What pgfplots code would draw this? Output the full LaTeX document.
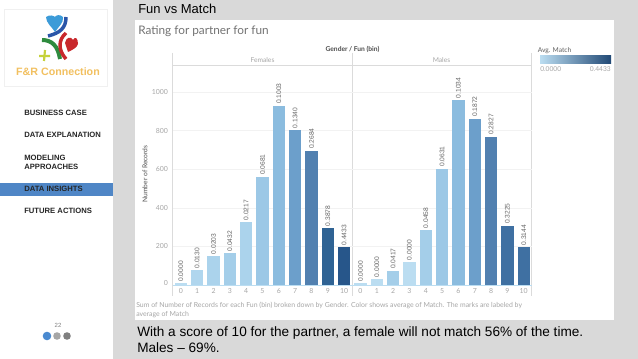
\documentclass[border=0pt]{standalone}
\usepackage{fontspec}
\setmainfont{Liberation Sans}
\newfontfamily\tab{Lato}
\usepackage{pgfplots}
\pgfplotsset{compat=1.18}
\definecolor{ca}{HTML}{BBDDF1}
\definecolor{cb}{HTML}{B0D6EE}
\definecolor{cc}{HTML}{ABD3EC}
\definecolor{cd}{HTML}{A4CEE9}
\definecolor{ce}{HTML}{9CC8E6}
\definecolor{cf}{HTML}{8BBCDF}
\definecolor{cg}{HTML}{6C9FCB}
\definecolor{ch}{HTML}{5180B0}
\definecolor{ci}{HTML}{3F70A2}
\definecolor{cj}{HTML}{2F6394}
\definecolor{ck}{HTML}{27568A}
\definecolor{slidebg}{HTML}{D9D9D9}
\definecolor{navblue}{HTML}{4F86C6}
\definecolor{dotblue}{HTML}{4A8AD0}
\definecolor{logoorange}{HTML}{F2C060}
\definecolor{logoblue}{HTML}{3C9BD8}
\definecolor{logonavy}{HTML}{2A55A8}
\definecolor{logogreen}{HTML}{2E8B3E}
\definecolor{logored}{HTML}{C8282C}
\definecolor{logolime}{HTML}{C6D23C}
\definecolor{txg}{HTML}{A6A6A6}
\definecolor{txd}{HTML}{606060}
\newcommand\B[4]{\addplot[ybar,bar shift=0pt,bar width=9.3pt,draw=none,fill=#4,
  point meta=explicit symbolic,nodes near coords] coordinates {(#1,#2)[#3]};}
\pgfplotsset{facet/.style={
  scale only axis,width=134.7pt,height=164.8pt,anchor=south west,
  xmin=-0.5,xmax=10.5,ymin=0,ymax=1138,
  axis line style={draw=none},
  xtick={0,...,10},ytick={0,200,400,600,800,1000},
  major tick length=0pt,ymajorgrids,
  grid style={draw=black!5,line width=.3pt},
  tick label style={font=\tab\fontsize{5.2}{6}\selectfont,text=txg},
  /pgf/number format/assume math mode=true,
  x tick label style={yshift=0.6pt},
  clip=false,
  every node near coord/.style={rotate=90,anchor=west,inner sep=1.2pt,
    font=\fontsize{5}{6}\selectfont,text=black!60},
}}
\begin{document}
\begin{tikzpicture}[x=0.75pt,y=-0.75pt]
\path[use as bounding box] (0,0) rectangle (638,359);
\fill[white] (0,0) rectangle (638,359);
\fill[slidebg] (113,0) rectangle (638,359);
\fill[white] (135,20) rectangle (613.7,319.7);
% logo
\draw[black!6,line width=.3pt] (4,9) rectangle (107,86);
\fill[logoblue] (46,17) .. controls (50,14) and (54,16) .. (55,17) .. controls (56,15) and (60,14) .. (63,17) .. controls (64,23) and (58,27) .. (55,32) .. controls (52,27) and (46,23) .. (46,17) -- cycle;
\draw[logonavy,line width=2.6pt] (66,17) .. controls (66,28) and (60,33) .. (48,36);
\draw[logogreen,line width=3pt] (42,40) .. controls (52,40) and (58,46) .. (60,59);
\draw[logored,line width=2.6pt] (66,33) .. controls (58,40) and (58,50) .. (66,59);
\fill[logored] (65,43) .. controls (66,37) and (71,36) .. (73,40) .. controls (75,36) and (78,38) .. (78,44) .. controls (77,48) and (72,50) .. (68,52) -- cycle;
\draw[logolime,line width=1.6pt] (39,56) -- (50,56) (45,50) -- (44,61);
\node[anchor=base,font=\bfseries\fontsize{8}{9}\selectfont,text=logoorange] at (58,76) {F\&R Connection};
% nav
\fill[navblue] (0,183) rectangle (113,196);
\begin{scope}[every node/.style={anchor=base west,inner sep=0pt,font=\fontsize{5.75}{6.5}\selectfont\bfseries,text=black!85}]
\node at (24,115.5) {BUSINESS CASE};
\node at (24,137.5) {DATA EXPLANATION};
\node at (24,160.5) {MODELING};
\node at (24,169.5) {APPROACHES};
\node at (24,191.5) {DATA INSIGHTS};
\node at (24,213.5) {FUTURE ACTIONS};
\end{scope}
\node[font=\fontsize{4.5}{5}\selectfont,text=black!50] at (58,325) {22};
\fill[dotblue] (47,336) circle (4.3);
\fill[black!35] (57,336) circle (3.8);
\fill[black!50] (67,336) circle (3.8);
% slide text
\node[anchor=base west,inner sep=0pt,font=\fontsize{9.75}{10}\selectfont] at (138,13.5) {Fun vs Match};
\node[anchor=base west,inner sep=0pt,font=\fontsize{10.2}{11}\selectfont] at (137,336.5) {With a score of 10 for the partner, a female will not match 56\% of the time.};
\node[anchor=base west,inner sep=0pt,font=\fontsize{10.2}{11}\selectfont] at (137,352) {Males -- 69\%.};
% chart texts
\node[anchor=base west,inner sep=0pt,font=\tab\fontsize{8.85}{10}\selectfont,text=black!55] at (138,35) {Rating for partner for fun};
\node[font=\tab\bfseries\fontsize{5}{6}\selectfont,text=black!70] at (352.5,49) {Gender / Fun (bin)};
\node[font=\tab\fontsize{5}{6}\selectfont,text=txg] at (262.5,60) {Females};
\node[font=\tab\fontsize{5}{6}\selectfont,text=txg] at (441.5,60) {Males};
\node[rotate=90,font=\tab\fontsize{5}{6}\selectfont,text=black!70] at (145,174) {Number of Records};
\node[anchor=base west,inner sep=0pt,font=\tab\fontsize{5.18}{6}\selectfont,text=txg] at (136,307) {Sum of Number of Records for each Fun (bin) broken down by Gender.  Color shows average of Match.  The marks are labeled by};
\node[anchor=base west,inner sep=0pt,font=\tab\fontsize{5.18}{6}\selectfont,text=txg] at (136,316) {average of Match};
% legend
\node[anchor=base west,inner sep=0pt,font=\tab\fontsize{5}{6}\selectfont,text=txd] at (537.5,53) {Avg. Match};
\shade[left color=ca,right color=ck!85!black] (540,56) rectangle (611,64);
\node[anchor=base west,inner sep=0pt,font=\tab\fontsize{5}{6}\selectfont,text=txg] at (540,72) {0.0000};
\node[anchor=base east,inner sep=0pt,font=\tab\fontsize{5}{6}\selectfont,text=txg] at (611,72) {0.4433};
% frame lines
\draw[black!14,line width=.4pt] (172.7,53) -- (172.7,296) (352.3,53) -- (352.3,296) (531.7,53) -- (531.7,296);
\draw[black!14,line width=.4pt] (172.7,65.3) -- (531.7,65.3);
\begin{axis}[facet,at={(129.525pt,-213.75pt)},
  yticklabels={\raisebox{3pt}{0},200,400,600,800,1000}]
\B{0}{8}{0.0000}{ca}
\B{1}{76}{0.0130}{cb}
\B{2}{150}{0.0203}{cc}
\B{3}{164}{0.0432}{cd}
\B{4}{325}{0.0217}{cc}
\B{5}{561}{0.0681}{ce}
\B{6}{929}{0.1003}{cf}
\B{7}{803}{0.1340}{cg}
\B{8}{696}{0.2684}{ch}
\B{9}{295}{0.3878}{cj}
\B{10}{195}{0.4433}{ck}
\end{axis}
\begin{axis}[facet,at={(264.225pt,-213.75pt)},yticklabels={}]
\B{0}{8}{0.0000}{ca}
\B{1}{31}{0.0000}{ca}
\B{2}{74}{0.0417}{cd}
\B{3}{119}{0.0000}{ca}
\B{4}{285}{0.0458}{cd}
\B{5}{603}{0.0631}{ce}
\B{6}{958}{0.1034}{cf}
\B{7}{862}{0.1872}{cg}
\B{8}{769}{0.2827}{ch}
\B{9}{307}{0.3225}{ci}
\B{10}{195}{0.3144}{ci}
\end{axis}
\draw[ca,line width=.4pt] (172.7,285) -- (531.7,285);
\end{tikzpicture}
\end{document}
